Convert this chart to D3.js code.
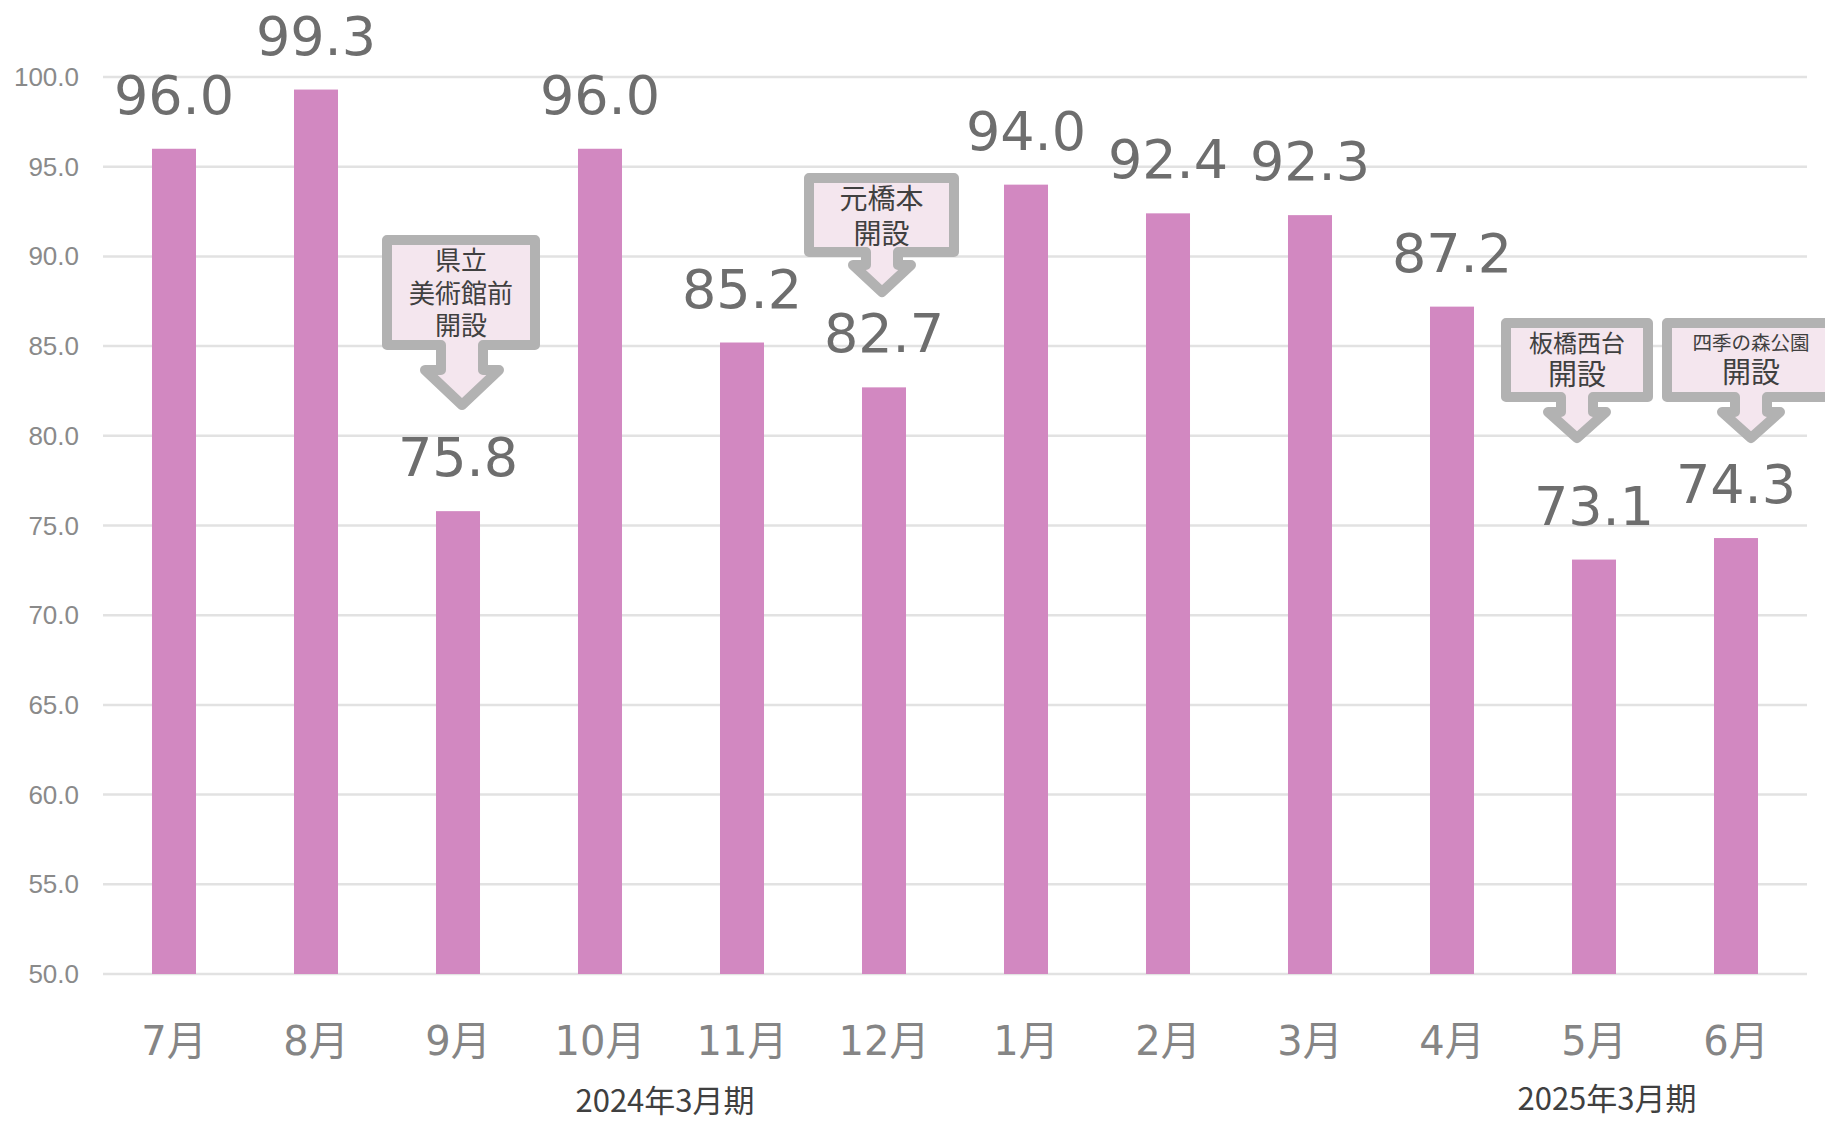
<!DOCTYPE html>
<html>
<head>
<meta charset="utf-8">
<script src="https://cdn.jsdelivr.net/npm/d3@7.9.0/dist/d3.min.js"></script>
<style>
  body { margin: 0; background: #fff; }
  svg { display: block; }
</style>
</head>
<body>
<svg id="chart" width="1825" height="1122"></svg>
<script>
// data
const months = ['7月', '8月', '9月', '10月', '11月', '12月', '1月', '2月', '3月', '4月', '5月', '6月'];
const values = [96.0, 99.3, 75.8, 96.0, 85.2, 82.7, 94.0, 92.4, 92.3, 87.2, 73.1, 74.3];
const yTicks = [50, 55, 60, 65, 70, 75, 80, 85, 90, 95, 100];
const periodLabels = ['2024年3月期', '2025年3月期'];
const calloutMonths = ['9月', '12月', '5月', '6月'];
const calloutLines = [['県立', '美術館前', '開設'], ['元橋本', '開設'], ['板橋西台', '開設'], ['四季の森公園', '開設']];

// layout for the callouts (pixels)
const calloutBoxes = [
  { dx: 4,   x0: 387,  x1: 535,  y0: 240, y1: 345, sw: 21, hw: 37, yh: 370, tip: 405,
    fs: [26, 26, 26], ty: [258, 291, 323] },
  { dx: -2,  x0: 809,  x1: 954,  y0: 178, y1: 252, sw: 16, hw: 29, yh: 265, tip: 292,
    fs: [28, 28], ty: [197, 232] },
  { dx: -17, x0: 1506, x1: 1648, y0: 323, y1: 397, sw: 16, hw: 29, yh: 412, tip: 438,
    fs: [24, 29], ty: [341, 372] },
  { dx: 15,  x0: 1667, x1: 1838, y0: 323, y1: 397, sw: 16, hw: 29, yh: 412, tip: 438,
    fs: [19.5, 29], ty: [341, 370] }
];

const svg = d3.select('#chart');
const plotLeft = 103, plotRight = 1807, plotTop = 77, plotBottom = 974;

const x = d3.scaleBand().domain(months).range([plotLeft, plotRight]).paddingInner(0.69).paddingOuter(0.345);
const y = d3.scaleLinear().domain([50, 100]).range([plotBottom, plotTop]);

// grid + y labels
const grid = svg.append('g');
yTicks.forEach(t => {
  grid.append('line')
    .attr('x1', plotLeft).attr('x2', plotRight)
    .attr('y1', y(t)).attr('y2', y(t))
    .attr('stroke', '#e2e2e2').attr('stroke-width', 2.5);
  grid.append('text')
    .attr('x', 79).attr('y', y(t))
    .attr('text-anchor', 'end').attr('dominant-baseline', 'central')
    .attr('font-family', 'Liberation Sans, Arial, sans-serif')
    .attr('font-size', 26).attr('fill', '#8a8a8a')
    .text(t.toFixed(1));
});

// bars
svg.append('g').selectAll('rect')
  .data(values)
  .join('rect')
  .attr('x', (d, i) => x(months[i]))
  .attr('width', x.bandwidth())
  .attr('y', d => y(d))
  .attr('height', d => y(50) - y(d))
  .attr('fill', '#d288c1');

// value labels
svg.append('g').selectAll('text')
  .data(values)
  .join('text')
  .attr('x', (d, i) => x(months[i]) + x.bandwidth() / 2)
  .attr('y', d => y(d) - 35)
  .attr('text-anchor', 'middle')
  .attr('font-family', 'DejaVu Sans, Verdana, sans-serif')
  .attr('font-size', 54).attr('fill', '#6e6e6e')
  .text(d => d.toFixed(1));

// month labels
svg.append('g').selectAll('text')
  .data(months)
  .join('text')
  .attr('x', d => x(d) + x.bandwidth() / 2)
  .attr('y', 1055)
  .attr('text-anchor', 'middle')
  .attr('font-family', 'DejaVu Sans, Noto Sans CJK JP, sans-serif')
  .attr('font-size', 40).attr('fill', '#858585')
  .text(d => d);

// fiscal period labels
const periodPos = [[665, 1112], [1607, 1110]];
periodLabels.forEach((p, i) => {
  svg.append('text')
    .attr('x', periodPos[i][0]).attr('y', periodPos[i][1])
    .attr('text-anchor', 'middle')
    .attr('font-family', 'Noto Sans CJK JP, sans-serif')
    .attr('font-size', 31).attr('fill', '#404040')
    .text(p);
});

// callouts
calloutMonths.forEach((m, i) => {
  const b = calloutBoxes[i];
  const cx = x(m) + x.bandwidth() / 2 + b.dx;
  const p = d3.path();
  p.moveTo(b.x0, b.y0);
  p.lineTo(b.x1, b.y0);
  p.lineTo(b.x1, b.y1);
  p.lineTo(cx + b.sw, b.y1);
  p.lineTo(cx + b.sw, b.yh);
  p.lineTo(cx + b.hw, b.yh);
  p.lineTo(cx, b.tip);
  p.lineTo(cx - b.hw, b.yh);
  p.lineTo(cx - b.sw, b.yh);
  p.lineTo(cx - b.sw, b.y1);
  p.lineTo(b.x0, b.y1);
  p.closePath();
  svg.append('path')
    .attr('d', p.toString())
    .attr('fill', '#f4e6ee')
    .attr('stroke', '#b2b2b2').attr('stroke-width', 10)
    .attr('stroke-linejoin', 'round');
  calloutLines[i].forEach((line, j) => {
    svg.append('text')
      .attr('x', i === 3 ? cx : (b.x0 + b.x1) / 2)
      .attr('y', b.ty[j])
      .attr('text-anchor', 'middle').attr('dominant-baseline', 'central')
      .attr('font-family', 'Noto Sans CJK JP, sans-serif')
      .attr('font-size', b.fs[j]).attr('fill', '#404040')
      .text(line);
  });
});
</script>
</body>
</html>
